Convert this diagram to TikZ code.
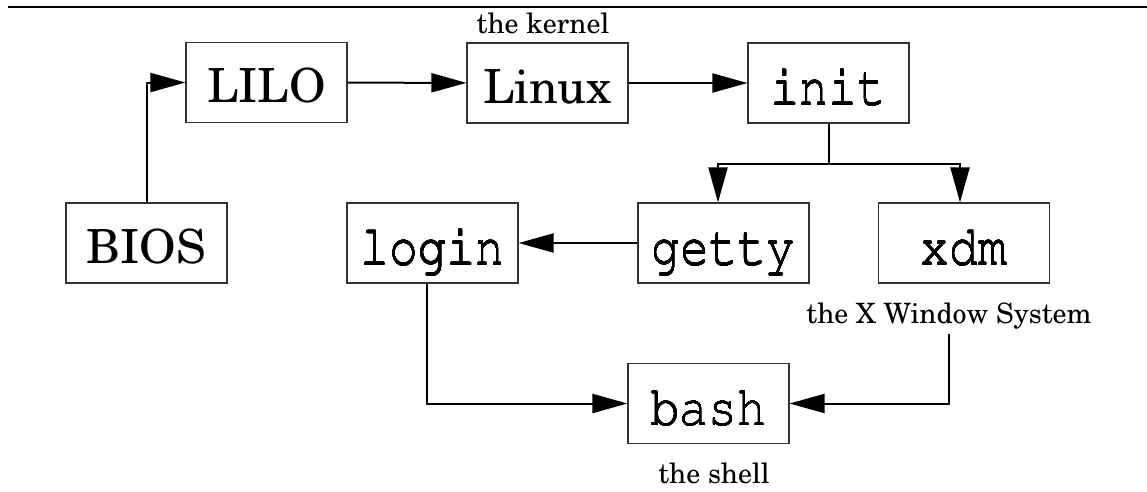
\documentclass[tikz,border=0pt]{standalone}
\usepackage[T1]{fontenc}
\usepackage{graphicx}
\usepackage[copies]{contour}
\renewcommand{\rmdefault}{pnc}
\renewcommand{\ttdefault}{pcr}
\contournumber{16}
\contourlength{0.12pt}
\newcommand{\mono}[1]{\scalebox{1}[1.18]{\contour{black}{#1}}}
\usetikzlibrary{arrows.meta,calc}
\begin{document}
\begin{tikzpicture}[x=1pt,y=-1pt,
  box/.style={draw=black!80, line width=1.1pt, minimum width=161pt, minimum height=80pt,
    inner sep=0pt, text height=40pt, text depth=0pt, font=\fontsize{47}{50}\selectfont},
  wbox/.style={box, minimum width=171pt},
  ttb/.style={font=\fontsize{48}{50}\selectfont\ttfamily, text height=44pt},
  lbl/.style={font=\fontsize{28}{30}\selectfont, inner sep=0pt, anchor=base},
  conn/.style={line width=2pt, -{Triangle[length=35pt,width=19pt]}}
]
\useasboundingbox (0,0) rectangle (1147,491);
\draw[line width=2pt] (8,7) -- (1147,7);

\node[box] (LILO) at (266.5,82.5) {LILO};
\node[box] (Linux) at (547.5,83) {Linux};
\node[box,ttb] (init) at (828.5,83) {\mono{init}};
\node[box] (BIOS) at (146.5,243) {BIOS};
\node[wbox,ttb] (login) at (432.5,243) {\mono{login}};
\node[wbox,ttb] (getty) at (723.5,243) {\mono{getty}};
\node[wbox,ttb] (xdm) at (964,243) {\mono{xdm}};
\node[box,ttb] (bash) at (708.5,403.5) {\mono{bash}};

\node[lbl] (klabel) at (543,33) {the kernel};
\node[lbl] (xlabel) at (949,323) {the X Window System};
\node[lbl] (slabel) at (714,483) {the shell};

\draw[conn] (BIOS.north) |- (LILO.west);
\draw[conn] (LILO) -- (Linux);
\draw[conn] (Linux) -- (init);
\coordinate (split) at ($(init.south)+(0,40)$);
\draw[conn] (init.south) -- (split) -| ($(getty.north)+(-5.5,0)$);
\draw[conn] (split) -| ($(xdm.north)+(-4,0)$);
\draw[conn] (getty) -- (login);
\draw[conn] ($(login.south)+(-5.5,0)$) |- (bash.west);
\draw[conn] ($(xlabel.south)+(0,5)$) |- (bash.east);
\end{tikzpicture}
\end{document}
